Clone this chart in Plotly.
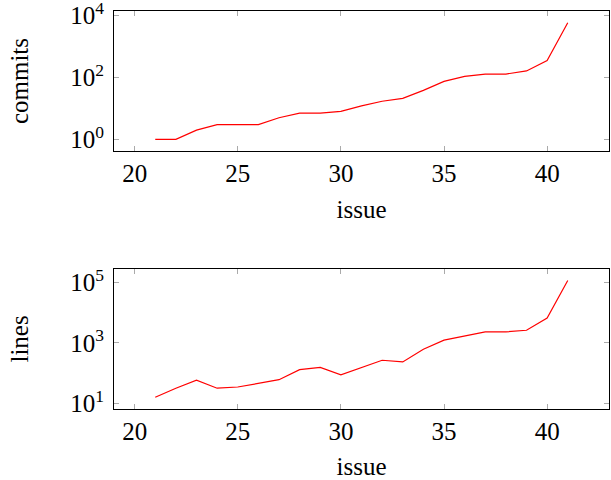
import math
import plotly.graph_objects as go

issues = list(range(21, 42))
commits = [1, 1, 2, 3, 3, 3, 5, 7, 7, 8, 12, 17, 21, 38, 74, 108, 128, 128, 161, 347, 5800]
lines = [16, 32, 59, 32, 35, 46, 61, 131, 156, 89, 152, 268, 235, 616, 1230, 1670, 2310, 2310, 2620, 6590, 114000]

x_ticks = [20, 25, 30, 35, 40]
commit_tickvals = [1, 100, 10000]
commit_ticktext = ["10<sup>0</sup>", "10<sup>2</sup>", "10<sup>4</sup>"]
line_tickvals = [10, 1000, 100000]
line_ticktext = ["10<sup>1</sup>", "10<sup>3</sup>", "10<sup>5</sup>"]

FONT = "Times New Roman, Liberation Serif, Times, serif"
FS = 25
fig = go.Figure()
fig.add_trace(go.Scatter(x=issues, y=commits, mode="lines", line=dict(color="red", width=1.2),
                         xaxis="x", yaxis="y", showlegend=False))
fig.add_trace(go.Scatter(x=issues, y=lines, mode="lines", line=dict(color="red", width=1.2),
                         xaxis="x2", yaxis="y2", showlegend=False))

axis_common = dict(showline=True, linecolor="black", linewidth=1, mirror="ticks", ticks="inside",
                   ticklen=5, tickcolor="#aaaaaa", tickwidth=1, showgrid=False, zeroline=False,
                   automargin=False, ticklabeloverflow="allow",
                   tickfont=dict(family=FONT, size=FS, color="black"))


def log_range(vmin, vmax):
    a, b = math.log10(vmin), math.log10(vmax)
    e = (b - a) * 0.1
    return [a - e, b + e]


fig.update_layout(
    width=611, height=480,
    margin=dict(l=114, r=2, t=11, b=71, autoexpand=False),
    paper_bgcolor="white", plot_bgcolor="white",
    font=dict(family=FONT, color="black"),
    xaxis=dict(domain=[0, 1], anchor="y", range=[19, 43], tickvals=x_ticks,
               title=dict(text="issue", font=dict(family=FONT, size=FS), standoff=14), **axis_common),
    yaxis=dict(domain=[0.648, 1], anchor="x", type="log", range=log_range(min(commits), max(commits)),
               tickvals=commit_tickvals, ticktext=commit_ticktext, ticklabelstandoff=4,
               title=dict(text="commits", font=dict(family=FONT, size=FS), standoff=34), **axis_common),
    xaxis2=dict(domain=[0, 1], anchor="y2", range=[19, 43], tickvals=x_ticks,
                title=dict(text="issue", font=dict(family=FONT, size=FS), standoff=14), **axis_common),
    yaxis2=dict(domain=[0, 0.352], anchor="x2", type="log", range=log_range(min(lines), max(lines)),
                tickvals=line_tickvals, ticktext=line_ticktext, ticklabelstandoff=4,
                title=dict(text="lines", font=dict(family=FONT, size=FS), standoff=34), **axis_common),
)
fig.write_html("out.html", config={"displayModeBar": False},
               post_script="document.body.style.margin='0';document.body.style.overflow='hidden';")
